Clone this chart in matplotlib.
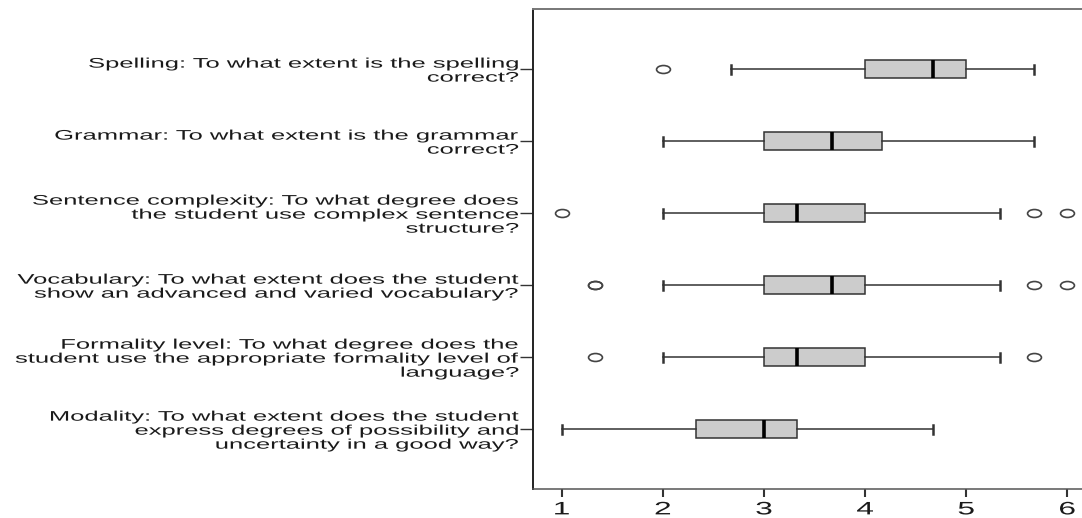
import numpy as np
import matplotlib
matplotlib.use("Agg")
import matplotlib.pyplot as plt
from matplotlib.patheffects import AbstractPathEffect
from matplotlib.transforms import Affine2D
from matplotlib.path import Path

# Rating items (one box per item, top to bottom)
items = [
    "Spelling: To what extent is the spelling\ncorrect?",
    "Grammar: To what extent is the grammar\ncorrect?",
    "Sentence complexity: To what degree does\nthe student use complex sentence\nstructure?",
    "Vocabulary: To what extent does the student\nshow an advanced and varied vocabulary?",
    "Formality level: To what degree does the\nstudent use the appropriate formality level of\nlanguage?",
    "Modality: To what extent does the student\nexpress degrees of possibility and\nuncertainty in a good way?",
]
whisker_low = [2.67, 2.00, 2.00, 2.00, 2.00, 1.00]
q1 = [4.00, 3.00, 3.00, 3.00, 3.00, 2.33]
median = [4.67, 3.67, 3.33, 3.67, 3.33, 3.00]
q3 = [5.00, 4.17, 4.00, 4.00, 4.00, 3.33]
whisker_high = [5.67, 5.67, 5.33, 5.33, 5.33, 4.67]
outliers = [
    [2.00],
    [],
    [1.00, 5.67, 6.00],
    [1.33, 1.33, 5.67, 6.00],
    [1.33, 5.67],
    [],
]
x_ticks = [1, 2, 3, 4, 5, 6]

# Horizontal widening applied to glyphs and flier markers
TEXT_WIDEN = 1.84
MARKER_WIDEN = 1.75


class WideGlyphs(AbstractPathEffect):
    """Draw text glyphs stretched horizontally about an anchor."""

    def __init__(self, sx, anchor="right"):
        super().__init__()
        self.sx = sx
        self.anchor = anchor

    def draw_path(self, renderer, gc, tpath, affine, rgbFace=None):
        ext = tpath.get_extents(affine)
        if self.anchor == "right":
            x0 = ext.x1
        elif self.anchor == "left":
            x0 = ext.x0
        else:
            x0 = 0.5 * (ext.x0 + ext.x1)
        stretch = Affine2D().translate(-x0, 0).scale(self.sx, 1.0).translate(x0, 0)
        renderer.draw_path(gc, tpath, affine + stretch, rgbFace)


plt.rcParams["font.family"] = ["Liberation Sans", "DejaVu Sans"]

fig = plt.figure(figsize=(10.82, 5.18), dpi=100)
W, H = 1082.0, 518.0
ax_left, ax_top, ax_bottom = 533.3, 9.0, 489.3
ax = fig.add_axes([ax_left / W, 1 - ax_bottom / H, 1 - ax_left / W, (ax_bottom - ax_top) / H])

positions = np.arange(1, len(items) + 1)
stats = []
for i in range(len(items)):
    stats.append(dict(med=median[i], q1=q1[i], q3=q3[i],
                      whislo=whisker_low[i], whishi=whisker_high[i],
                      fliers=np.array(outliers[i])))

circ = Path.unit_circle()
ellipse = Path(circ.vertices * np.array([MARKER_WIDEN, 1.0]), circ.codes)

edge = "#333333"
ax.bxp(stats, positions=positions, widths=0.25, capwidths=0.125,
       orientation="horizontal", patch_artist=True, manage_ticks=False,
       boxprops=dict(facecolor="#cccccc", edgecolor=edge, linewidth=1.1),
       whiskerprops=dict(color=edge, linewidth=1.1),
       capprops=dict(color=edge, linewidth=1.8),
       medianprops=dict(color="black", linewidth=2.6, solid_capstyle="butt"),
       flierprops=dict(marker=ellipse, markersize=10, markerfacecolor="none",
                       markeredgecolor="#444444", markeredgewidth=1.2))

px_per_unit = 101.1
ax.set_xlim(1 - (561.7 - ax_left) / px_per_unit, 6 + (W - 1067.3) / px_per_unit)
ax.set_ylim(len(items) + 0.835, 1 - 0.835)

ax.set_xticks(x_ticks)
ax.set_xticklabels([str(t) for t in x_ticks], fontsize=13)
ax.set_yticks(positions)
ax.set_yticklabels(items, fontsize=10, linespacing=1.0)

ax.tick_params(axis="x", length=5.7, width=1.5, pad=3, color=edge)
ax.tick_params(axis="y", length=9.4, width=1.0, pad=0.8, color=edge)

for lab in ax.get_yticklabels():
    lab.set_path_effects([WideGlyphs(TEXT_WIDEN, "right")])
    lab.set_color("#1a1a1a")
for lab in ax.get_xticklabels():
    lab.set_path_effects([WideGlyphs(MARKER_WIDEN, "center")])
    lab.set_color("#1a1a1a")

ax.spines["right"].set_visible(False)
ax.spines["left"].set_linewidth(1.4)
ax.spines["left"].set_color("#222222")
ax.spines["bottom"].set_linewidth(1.1)
ax.spines["bottom"].set_color("#555555")
ax.spines["top"].set_linewidth(1.4)
ax.spines["top"].set_color("#777777")

fig.savefig("out.png", dpi=100)
